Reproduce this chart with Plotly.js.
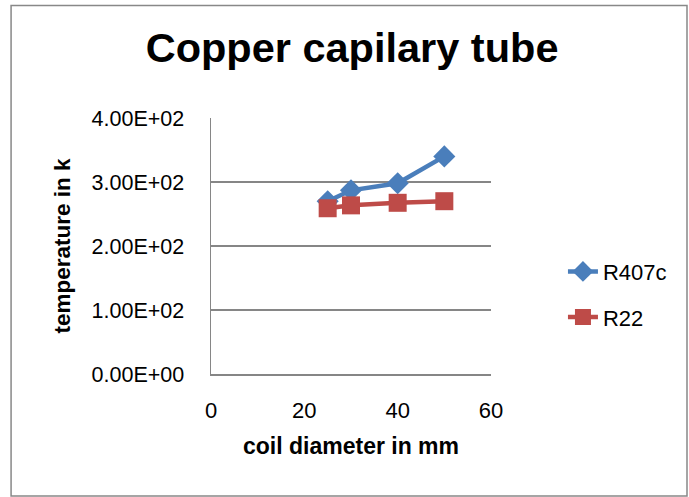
<!DOCTYPE html>
<html>
<head>
<meta charset="utf-8">
<script src="https://cdn.plot.ly/plotly-3.0.1.min.js"></script>
<style>html,body{margin:0;padding:0;background:#fff;}#chart{width:689px;height:497px;}</style>
</head>
<body>
<div id="chart"></div>
<script>
const diameters = [25, 30, 40, 50];
const r407c = [270, 287, 298, 340];
const r22 = [259, 263.5, 267.5, 270];
const yTickVals = [0, 100, 200, 300, 400];
const yTickText = ["0.00E+00", "1.00E+02", "2.00E+02", "3.00E+02", "4.00E+02"];
const xTickVals = [0, 20, 40, 60];

const traces = [
  {
    x: diameters, y: r407c, name: "R407c", type: "scatter", mode: "lines+markers",
    legendgroup: "a",
    line: {color: "#4a7ebb", width: 4.5},
    marker: {symbol: "diamond", size: 17, color: "#4a7ebb"}
  },
  {
    x: diameters, y: r22, name: "R22", type: "scatter", mode: "lines+markers",
    legendgroup: "b",
    line: {color: "#be4b48", width: 4.5},
    marker: {symbol: "square", size: 18, color: "#be4b48"}
  }
];

const font = "Liberation Sans, Arial, sans-serif";
const layout = {
  width: 689, height: 497,
  margin: {l: 211, r: 198, t: 118, b: 123},
  paper_bgcolor: "#fff", plot_bgcolor: "#fff",
  font: {family: font, color: "#000", size: 20},
  title: {
    text: "<b>Copper capilary tube</b>",
    font: {family: font, size: 41.5, color: "#000"},
    x: 0.511, xanchor: "center", y: 0.905, yanchor: "middle", yref: "container"
  },
  showlegend: true,
  legend: {
    x: 1.257, xanchor: "left", y: 0.31, yanchor: "middle",
    font: {family: font, size: 22, color: "#000"},
    traceorder: "grouped", tracegroupgap: 14, bgcolor: "rgba(0,0,0,0)"
  },
  xaxis: {
    range: [0, 60], tickvals: xTickVals, showgrid: false, zeroline: false,
    showline: true, linecolor: "#868686", linewidth: 1.5, ticks: "",
    tickfont: {family: font, size: 22, color: "#000"}, ticklabelstandoff: 16,
    title: {text: "<b>coil diameter in mm</b>", font: {family: font, size: 23, color: "#000"}, standoff: 16},
    fixedrange: true
  },
  yaxis: {
    range: [0, 400], tickvals: yTickVals, ticktext: yTickText,
    showgrid: true, gridcolor: "#868686", gridwidth: 1.5, zeroline: false,
    showline: true, linecolor: "#868686", linewidth: 1.5, ticks: "",
    tickfont: {family: font, size: 21.5, color: "#000"}, ticklabelstandoff: 21,
    title: {text: "<b>temperature in k</b>", font: {family: font, size: 22.5, color: "#000"}, standoff: 14},
    fixedrange: true
  },
  shapes: [{
    type: "rect", xref: "paper", yref: "paper",
    x0: -0.714, x1: 1.70, y0: -0.477, y1: 1.439,
    line: {color: "#888", width: 1.5}, fillcolor: "rgba(0,0,0,0)", layer: "below"
  }]
};

Plotly.newPlot("chart", traces, layout, {staticPlot: true, displayModeBar: false});
</script>
</body>
</html>
